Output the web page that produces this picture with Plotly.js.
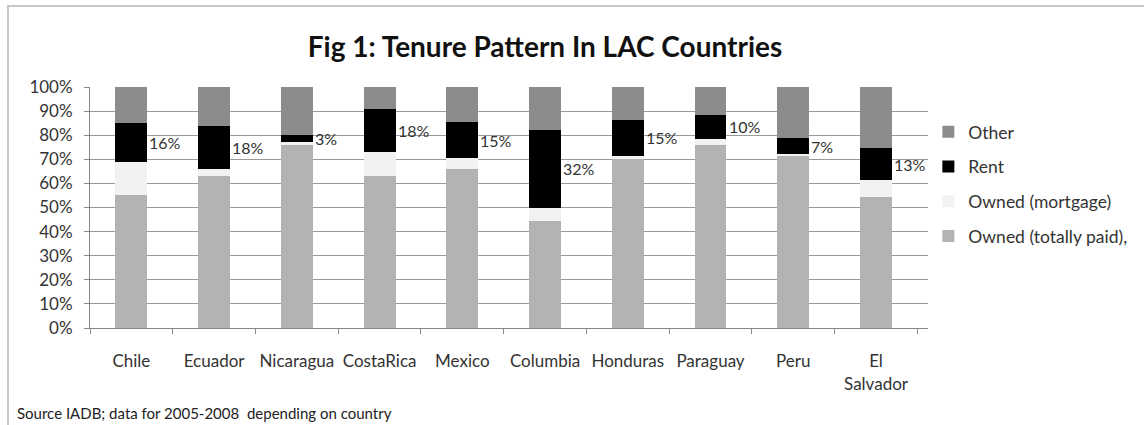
<!DOCTYPE html>
<html><head><meta charset="utf-8">
<script src="https://cdn.plot.ly/plotly-3.0.1.min.js"></script>
<style>
html,body{margin:0;padding:0;background:#fff;}
#frame{position:absolute;left:7px;top:5px;width:1150px;height:418px;border-top:2px solid #c8c8c8;border-left:2px solid #c8c8c8;border-bottom:1px solid #eeeeee;pointer-events:none;z-index:5;}
#chart{width:1144px;height:425px;}
</style></head>
<body>
<div id="chart"></div>
<div id="frame"></div>
<script>
var countries = ["Chile","Ecuador","Nicaragua","CostaRica","Mexico","Columbia","Honduras","Paraguay","Peru","El<br>Salvador"];
var ownedPaid     = [55, 63, 76, 63, 66, 44.5, 70, 76, 71.5, 54.5];
var ownedMortgage = [14, 3, 1, 10, 4.5, 5.5, 1.5, 2.5, 0.5, 7];
var rent          = [16, 18, 3, 18, 15, 32, 15, 10, 7, 13];
var other         = [15, 16, 20, 9, 14.5, 18, 13.5, 11.5, 21, 25.5];
var rentLabels    = ["16%","18%","3%","18%","15%","32%","15%","10%","7%","13%"];
var seriesNames   = ["Owned (totally paid),","Owned (mortgage)","Rent","Other"];
var yTickVals     = [0,10,20,30,40,50,60,70,80,90,100];
var yTickText     = yTickVals.map(function(v){return v+"%";});

var FONT = "Lato, 'Open Sans', sans-serif";
var colors = ["#b3b3b3","#f2f2f2","#000000","#8c8c8c"];
var series = [ownedPaid, ownedMortgage, rent, other];

var traces = series.map(function(vals,i){
  return {type:"bar", x:countries, y:vals, name:seriesNames[i], legendgroup:"g"+i, legendrank:10-i,
    marker:{color:colors[i], line:{width:0}}, hoverinfo:"none"};
});

var annotations = countries.map(function(c,i){
  return {x:c, y:ownedPaid[i]+ownedMortgage[i]+rent[i]/2, xref:"x", yref:"y",
    text:rentLabels[i], showarrow:false, xanchor:"left", yanchor:"middle", xshift:16,
    font:{family:FONT, size:16, color:"#333"}};
});
annotations.push({xref:"paper", yref:"paper", x:-0.09, y:-0.353, xanchor:"left", yanchor:"middle",
  text:"Source IADB; data for 2005-2008  depending on country", showarrow:false,
  font:{family:FONT, size:15, color:"#222"}});

var layout = {
  width:1144, height:425,
  margin:{l:90, r:216, t:87, b:97},
  paper_bgcolor:"#fff", plot_bgcolor:"#fff",
  barmode:"stack", bargap:0.615,
  font:{family:FONT, size:16, color:"#333"},
  title:{text:"<b>Fig 1: Tenure Pattern In LAC Countries</b>", xref:"paper", x:0.543, xanchor:"center",
    y:0.889, yanchor:"middle", font:{family:FONT, size:28, color:"#111"}},
  xaxis:{type:"category", showline:true, linecolor:"#888", linewidth:1, ticks:"outside", tickson:"boundaries",
    ticklen:5, tickcolor:"#888", showgrid:false, tickangle:0, tickfont:{family:FONT, size:17, color:"#333"}, ticklabelstandoff:18},
  yaxis:{range:[0,100], tickvals:yTickVals, ticktext:yTickText, showline:true, linecolor:"#888", linewidth:1,
    ticks:"outside", ticklen:5, tickcolor:"#888", showgrid:true, gridcolor:"#999", gridwidth:1,
    zeroline:false, tickfont:{family:FONT, size:17, color:"#333"}, ticklabelstandoff:8},
  showlegend:true,
  legend:{xref:"container", yref:"container", x:0.8115, xanchor:"left", y:0.732, yanchor:"top",
    traceorder:"grouped", tracegroupgap:9,
    font:{family:FONT, size:17.5, color:"#333"}, bgcolor:"rgba(0,0,0,0)", itemwidth:30},
  annotations:annotations
};

Plotly.newPlot("chart", traces, layout, {displayModeBar:false, staticPlot:true});
</script>
</body></html>
